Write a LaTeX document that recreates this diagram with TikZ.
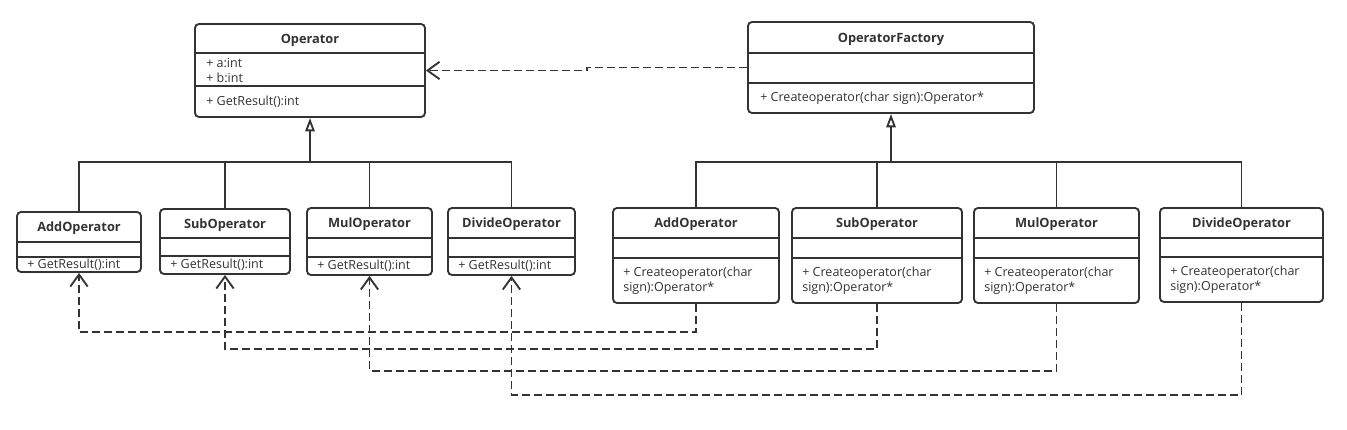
\documentclass[tikz,border=0pt]{standalone}
\usepackage{xcolor}
\usepackage{fontspec}
\setmainfont{Open Sans}
\usepackage{tikz}
\usetikzlibrary{arrows.meta, positioning, calc, fit}
\definecolor{umlline}{RGB}{51,51,51}
\definecolor{umltext}{RGB}{51,51,51}
\tikzset{
  classbox/.style={rectangle, draw=umlline, rounded corners=3pt,
    line width=1.4pt, inner sep=0pt},
  divider/.style={draw=umlline, line width=1.3pt},
  classname/.style={font=\fontsize{9.6}{11.25}\selectfont\bfseries,
    text=umltext, inner sep=0pt},
  member/.style={font=\fontsize{9.4}{11.25}\selectfont, text=umltext,
    inner sep=0pt, anchor=west, align=left},
  line/.style={line width=1.4pt, draw=umlline},
  inherit/.style={-{Triangle[open, length=10pt, width=7pt]},
    line width=1.4pt, draw=umlline},
  depend/.style={-{Straight Barb[length=9pt, width=13pt]},
    line width=1.4pt, draw=umlline, dash pattern=on 6pt off 3pt}
}
% name, left, top, right, bottom, first divider, second divider, title
\newcommand{\umlclass}[8]{%
  \node[classbox, fit={(#2,#3) (#4,#5)}] (#1) {};
  \draw[divider] (#2,#6) -- (#4,#6);
  \draw[divider] (#2,#7) -- (#4,#7);
  \node[classname] (#1-name) at ({(#2+#4)/2},{(#3+#6)/2+1.5}) {#8};
}

\begin{document}
\begin{tikzpicture}[x=0.75pt, y=-0.75pt]
  \useasboundingbox (0,0) rectangle (1347,429);

  % Top classes
  \umlclass{op}{195}{24}{425}{117}{53}{86}{Operator}
  \node[member] at (206,70.5) {+ a:int\\+ b:int};
  \node[member] at (206,102) {+ GetResult():int};

  \umlclass{fac}{748}{22}{1034}{113}{53}{83}{OperatorFactory}
  \node[member] at (760,98) {+ Createoperator(char sign):Operator*};

  % Operator subclasses
  \umlclass{addL}{17}{212}{141}{272}{242}{257}{AddOperator}
  \umlclass{subL}{160}{209}{290}{274}{238}{256}{SubOperator}
  \umlclass{mulL}{307}{208}{432}{275}{238}{257}{MulOperator}
  \umlclass{divL}{448}{208}{575}{275}{238}{257}{DivideOperator}
  \node[member] at (27,265) {+ GetResult():int};
  \node[member] at (170,265) {+ GetResult():int};
  \node[member] at (317,266) {+ GetResult():int};
  \node[member] at (458,266) {+ GetResult():int};

  % Factory subclasses
  \umlclass{addR}{613}{208}{779}{303}{238}{258}{AddOperator}
  \umlclass{subR}{792}{208}{962}{303}{238}{258}{SubOperator}
  \umlclass{mulR}{974}{208}{1139}{303}{238}{258}{MulOperator}
  \umlclass{divR}{1160}{208}{1323}{302}{238}{257}{DivideOperator}
  \node[member] at (623,280.5) {+ Createoperator(char\\sign):Operator*};
  \node[member] at (802,280.5) {+ Createoperator(char\\sign):Operator*};
  \node[member] at (984,280.5) {+ Createoperator(char\\sign):Operator*};
  \node[member] at (1170,279.5) {+ Createoperator(char\\sign):Operator*};

  % Inheritance
  \coordinate (busL) at (310,162);
  \coordinate (busR) at (891,162);
  \draw[line] (addL.north) |- (busL) -| (divL.north);
  \draw[line] (subL.north) -- (subL.north |- busL);
  \draw[line] (mulL.north) -- (mulL.north |- busL);
  \draw[inherit] (busL) -- (op.south);

  \draw[line] (addR.north) |- (busR) -| (divR.north);
  \draw[line] (subR.north) -- (subR.north |- busR);
  \draw[line] (mulR.north) -- (mulR.north |- busR);
  \draw[inherit] (busR) -- (fac.south);

  % Dependencies
  \coordinate (jog) at (587,0);
  \draw[depend] (fac.west) -- (fac.west -| jog) |- (op.east);
  \draw[depend] (addR.south) |- (addL.south |- 0,332) -- (addL.south);
  \draw[depend] (subR.south) |- (subL.south |- 0,349) -- (subL.south);
  \draw[depend] (mulR.south) |- (mulL.south |- 0,371) -- (mulL.south);
  \draw[depend] (divR.south) |- (divL.south |- 0,395) -- (divL.south);
\end{tikzpicture}
\end{document}
